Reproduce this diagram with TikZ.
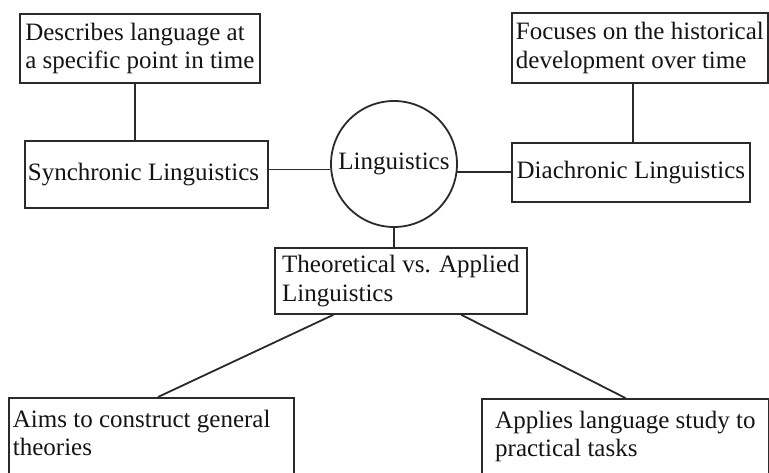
\documentclass[tikz,border=0pt]{standalone}
\usepackage{fontspec}
\setmainfont{Liberation Serif}
\usetikzlibrary{calc}
\definecolor{linec}{HTML}{2A2A2A}
\definecolor{textc}{HTML}{141414}
\begin{document}
\begin{tikzpicture}[x=1pt,y=-1pt,
  box/.style={draw=linec, line width=1.8pt, rectangle, anchor=north west,
    align=left, inner sep=0pt, text=textc,
    font=\fontsize{25}{28.5}\selectfont},
  hub/.style={draw=linec, line width=1.8pt, circle, minimum size=126pt,
    inner sep=0pt, text=textc, font=\fontsize{25}{28.5}\selectfont},
  link/.style={draw=linec, line width=1.8pt}]
\useasboundingbox (0,0) rectangle (769,472);
\clip (0,0) rectangle (769,472);

% central concept
\node[hub] (ling) at (394,164) {\raisebox{5pt}{Linguistics}};

% the two perspectives and their descriptions
\node[box, minimum width=240pt, minimum height=69pt] (desc) at (19,13)
  {Describes language at\\a specific point in time};
\node[box, minimum width=256pt, minimum height=70pt] (focus) at (511,12)
  {Focuses on the historical\\development over time};
\node[box, minimum width=243pt, minimum height=67pt, inner xsep=3pt,
  text width=237pt, align=flush left] (sync) at (24,140)
  {Synchronic Linguistics};
\node[box, minimum width=238pt, minimum height=59pt] (diach) at (511,142)
  {Diachronic Linguistics};

% theory and application
\node[box, minimum width=252pt, minimum height=66pt] (theo) at (274,247)
  {Theoretical vs. Applied\\Linguistics};
\node[box, minimum width=285pt, inner xsep=4pt, text width=277pt,
  align=flush left, inner ysep=12pt, text depth=40pt] (aims) at (8,397)
  {Aims to construct general\\theories};
\node[box, minimum width=287pt, inner ysep=12pt, text depth=40pt] (appl) at (481,398)
  {Applies language study to\\practical tasks};

% connectors
\draw[link] ([xshift=-5pt]desc.south) -- ([xshift=-5pt]desc.south |- sync.north);
\draw[link] ([xshift=-7pt]focus.south) -- ([xshift=-7pt]focus.south |- diach.north);
\draw[link] (ling.185) -- (ling.185 -| sync.east);
\draw[link] (ling.-7) -- (ling.-7 -| diach.west);
\draw[link] (ling.south) -- (ling.south |- theo.north);
\draw[link] ($(theo.south west)!0.234!(theo.south east)$) -- ($(aims.north west)!0.523!(aims.north east)$);
\draw[link] ($(theo.south west)!0.738!(theo.south east)$) -- (appl.north);
\end{tikzpicture}
\end{document}
